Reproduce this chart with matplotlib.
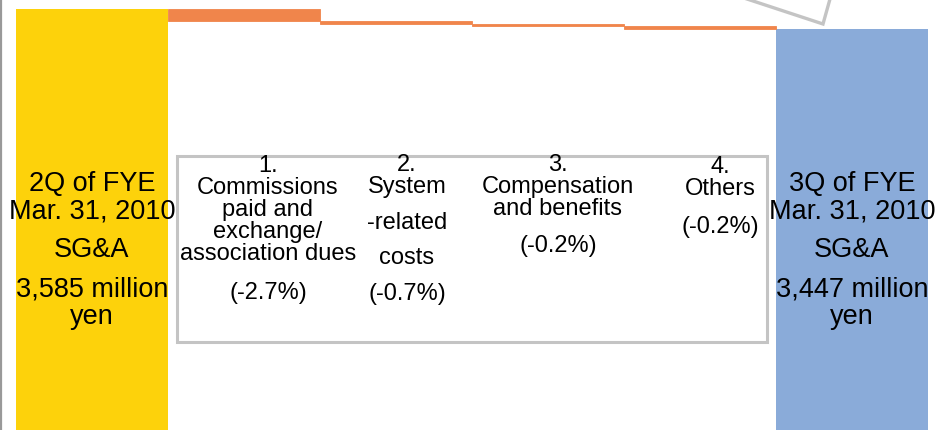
import matplotlib.pyplot as plt
from matplotlib.patches import Rectangle
from matplotlib.lines import Line2D

plt.rcParams['font.family'] = ['Liberation Sans', 'DejaVu Sans']

# waterfall data (million yen)
start = 3585
end = 3447
steps = [-83, -21, -14, -20]          # step sizes as drawn
pcts = ['(-2.7%)', '(-0.7%)', '(-0.2%)', '(-0.2%)']

yellow = '#FDD20B'
orange = '#F0854B'
blue = '#8AABD9'

W, H = 937, 431
fig = plt.figure(figsize=(W / 100, H / 100), dpi=100)
ax = fig.add_axes([0, 0, 1, 1])
ax.set_axis_off()

# scale: start top at 10 px, end top at 30 px
s = 20 / (start - end)
top = start + 10 / s
ax.set_ylim(top - H / s, top)
ax.set_xlim(-0.5 - 16 / 152, 5.5 + 9 / 152)

# totals
ax.bar(0, start, width=1, color=yellow, linewidth=0)
ax.bar(5, end, width=1, color=blue, linewidth=0)

# steps
level = start
for i, d in enumerate(steps):
    ax.bar(i + 1, -d, bottom=level + d, width=1, color=orange,
           edgecolor=orange, linewidth=0.6)
    level += d

# helpers in pixel coords
def px(x, y):
    return x / W, 1 - y / H

def txt(x, y, s, size, ls=1.2):
    ax.text(*px(x, y), s, transform=ax.transAxes, ha='center', va='center',
            fontsize=size, linespacing=ls, color='black')

# bar labels
big = 19.5
txt(92, 198, '2Q of FYE\nMar. 31, 2010', big, 1.06)
txt(92, 250, 'SG&A', big)
txt(92, 303, '3,585 million\nyen', big, 1.06)
txt(852, 198, '3Q of FYE\nMar. 31, 2010', big, 1.06)
txt(852, 250, 'SG&A', big)
txt(852, 303, '3,447 million\nyen', big, 1.06)

# breakdown box
x0, y0 = px(177, 343)
x1, y1 = px(767, 157)
ax.add_patch(Rectangle((x0, y0), x1 - x0, y1 - y0, transform=ax.transAxes,
                       fill=False, edgecolor='#C4C4C4', linewidth=2.2))

sm = 17
txt(268, 210, '1.\nCommissions\npaid and\nexchange/\nassociation dues', sm, 0.99)
txt(268, 293, pcts[0], sm)
txt(407, 176, '2.\nSystem', sm, 0.97)
txt(407, 223, '-related', sm)
txt(407, 258, 'costs', sm)
txt(407, 294, pcts[1], sm)
txt(558, 187, '3.\nCompensation\nand benefits', sm, 0.99)
txt(558, 246, pcts[2], sm)
txt(720, 178, '4.\nOthers', sm, 0.97)
txt(720, 227, pcts[3], sm)

# left border and callout shape
fig.add_artist(Line2D([1 / W, 1 / W], [0, 1], color='#999999', linewidth=1.6))
cx = [747, 823, 830]
cy = [0, 25, 0]
fig.add_artist(Line2D([x / W for x in cx], [1 - y / H for y in cy],
                      color='#C4C4C4', linewidth=2.4, solid_joinstyle='miter'))

fig.savefig('out.png', dpi=100)
